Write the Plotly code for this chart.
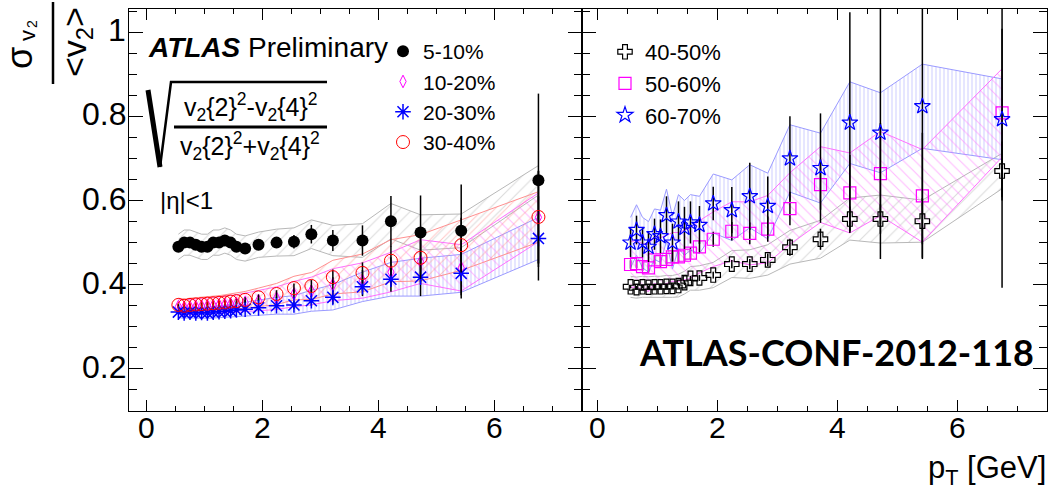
import plotly.graph_objects as go

# ---------------- data ----------------
pt = [0.55, 0.65, 0.75, 0.85, 0.95, 1.05, 1.15, 1.25, 1.35, 1.45, 1.55,
      1.70, 1.93, 2.24, 2.54, 2.84, 3.21, 3.72, 4.21, 4.72, 5.42, 6.75]

# left panel
v_5_10 = [0.490, 0.500, 0.500, 0.495, 0.490, 0.490, 0.500, 0.500, 0.505, 0.500, 0.490,
          0.486, 0.495, 0.500, 0.502, 0.520, 0.505, 0.505, 0.551, 0.524, 0.528, 0.648]
e_5_10 = [0.004, 0.004, 0.004, 0.004, 0.004, 0.005, 0.005, 0.005, 0.006, 0.006, 0.006,
          0.007, 0.009, 0.012, 0.016, 0.022, 0.025, 0.036, 0.060, 0.088, 0.110, 0.206]
s_5_10 = [0.030, 0.030, 0.030, 0.030, 0.030, 0.030, 0.030, 0.030, 0.030, 0.030, 0.030,
          0.030, 0.030, 0.032, 0.033, 0.034, 0.036, 0.040, 0.042, 0.042, 0.040, 0.035]

v_10_20 = [0.348, 0.346, 0.347, 0.348, 0.349, 0.350, 0.351, 0.352, 0.353, 0.354, 0.355,
           0.358, 0.362, 0.368, 0.378, 0.385, 0.400, 0.410, 0.430, 0.455, 0.440, 0.560]
e_10_20 = [0.003, 0.003, 0.003, 0.003, 0.003, 0.004, 0.004, 0.004, 0.004, 0.005, 0.005,
           0.006, 0.007, 0.009, 0.011, 0.014, 0.018, 0.025, 0.035, 0.050, 0.065, 0.110]
s_10_20 = [0.018, 0.018, 0.018, 0.018, 0.018, 0.018, 0.019, 0.019, 0.020, 0.020, 0.021,
           0.022, 0.024, 0.027, 0.030, 0.033, 0.038, 0.042, 0.047, 0.052, 0.055, 0.058]

v_20_30 = [0.335, 0.333, 0.335, 0.333, 0.334, 0.333, 0.335, 0.336, 0.337, 0.338, 0.340,
           0.342, 0.345, 0.350, 0.352, 0.362, 0.370, 0.395, 0.413, 0.418, 0.427, 0.510]
e_20_30 = [0.003, 0.003, 0.003, 0.003, 0.003, 0.003, 0.004, 0.004, 0.004, 0.004, 0.005,
           0.005, 0.006, 0.008, 0.010, 0.012, 0.016, 0.022, 0.030, 0.045, 0.060, 0.100]
s_20_30 = [0.013, 0.013, 0.013, 0.013, 0.013, 0.013, 0.014, 0.014, 0.014, 0.015, 0.015,
           0.016, 0.018, 0.020, 0.022, 0.025, 0.030, 0.035, 0.040, 0.045, 0.045, 0.050]

v_30_40 = [0.352, 0.350, 0.352, 0.353, 0.354, 0.355, 0.356, 0.357, 0.358, 0.360, 0.361,
           0.364, 0.370, 0.378, 0.392, 0.397, 0.418, 0.428, 0.457, 0.464, 0.494, 0.561]
e_30_40 = [0.003, 0.003, 0.003, 0.003, 0.004, 0.004, 0.004, 0.004, 0.005, 0.005, 0.005,
           0.006, 0.007, 0.009, 0.011, 0.014, 0.018, 0.025, 0.035, 0.050, 0.065, 0.110]
s_30_40 = [0.016, 0.016, 0.016, 0.016, 0.016, 0.017, 0.017, 0.017, 0.018, 0.018, 0.019,
           0.020, 0.022, 0.025, 0.028, 0.032, 0.040, 0.045, 0.050, 0.055, 0.060, 0.060]

# right panel
v_40_50 = [0.395, 0.393, 0.395, 0.394, 0.395, 0.395, 0.396, 0.396, 0.398, 0.405, 0.415,
           0.416, 0.423, 0.449, 0.449, 0.459, 0.489, 0.508, 0.556, 0.556, 0.551, 0.670]
e_40_50 = [0.004, 0.004, 0.004, 0.004, 0.005, 0.005, 0.005, 0.005, 0.006, 0.006, 0.006,
           0.007, 0.008, 0.010, 0.012, 0.015, 0.020, 0.025, 0.030, 0.035, 0.055, 0.070]
s_40_50 = [0.025, 0.025, 0.025, 0.025, 0.025, 0.025, 0.026, 0.026, 0.027, 0.027, 0.028,
           0.029, 0.030, 0.032, 0.034, 0.036, 0.040, 0.045, 0.050, 0.057, 0.050, 0.042]

v_50_60 = [0.448, 0.450, 0.443, 0.440, 0.459, 0.455, 0.460, 0.466, 0.466, 0.470, 0.475,
           0.490, 0.508, 0.527, 0.522, 0.532, 0.581, 0.638, 0.618, 0.664, 0.611, 0.808]
e_50_60 = [0.010, 0.010, 0.010, 0.011, 0.011, 0.012, 0.012, 0.013, 0.013, 0.014, 0.014,
           0.015, 0.018, 0.022, 0.026, 0.030, 0.040, 0.060, 0.090, 0.120, 0.150, 0.200]
s_50_60 = [0.055, 0.055, 0.055, 0.056, 0.056, 0.057, 0.057, 0.058, 0.058, 0.059, 0.060,
           0.062, 0.065, 0.070, 0.075, 0.080, 0.085, 0.090, 0.095, 0.100, 0.110, 0.105]

v_60_70 = [0.500, 0.530, 0.500, 0.490, 0.520, 0.515, 0.565, 0.500, 0.550, 0.535, 0.548,
           0.542, 0.593, 0.577, 0.610, 0.587, 0.700, 0.677, 0.785, 0.761, 0.824, 0.793]
e_60_70 = [0.034, 0.034, 0.035, 0.036, 0.037, 0.040, 0.045, 0.045, 0.048, 0.050, 0.050,
           0.045, 0.040, 0.055, 0.080, 0.070, 0.100, 0.130, 0.262, 0.300, 0.360, 0.400]
s_60_70 = [0.060, 0.060, 0.060, 0.060, 0.060, 0.062, 0.062, 0.063, 0.064, 0.065, 0.066,
           0.068, 0.070, 0.072, 0.075, 0.078, 0.080, 0.083, 0.097, 0.095, 0.100, 0.096]

x_ticks = [0, 2, 4, 6]
x_ticktext = ["0", "2", "4", "6"]
y_ticks = [0.2, 0.4, 0.6, 0.8, 1.0]
y_ticktext = ["0.2", "0.4", "0.6", "0.8", "1"]

# ---------------- layout helpers ----------------
FW, FH = 1052, 497
L, R, T, B = 129, 5, 9, 86
W = FW - L - R
H = FH - T - B
SPLIT = (582 - L) / W


def px(x):
    return (x - L) / W


def py(y):
    return 1 - (y - T) / H


FONT = "Liberation Sans, Arial, sans-serif"

fig = go.Figure()


def add_band(v, s, xa, ya, color, shape, size, solidity):
    lo = [a - b for a, b in zip(v, s)]
    hi = [a + b for a, b in zip(v, s)]
    fig.add_trace(go.Scatter(
        x=pt + pt[::-1], y=hi + lo[::-1], mode="lines", fill="toself",
        fillcolor="rgba(0,0,0,0)", line=dict(color=color, width=1),
        fillpattern=dict(shape=shape, fgcolor=color, bgcolor="rgba(0,0,0,0)",
                         size=size, solidity=solidity),
        xaxis=xa, yaxis=ya, showlegend=False, hoverinfo="skip"))


def add_pts(name, v, e, xa, ya, legend, symbol, size, color, lw):
    fig.add_trace(go.Scatter(
        x=pt, y=v, mode="markers", name=name,
        marker=dict(symbol=symbol, size=size, color=color,
                    line=dict(color=color, width=lw)),
        error_y=dict(type="data", array=e, visible=True, color="black",
                     thickness=1.5, width=0),
        xaxis=xa, yaxis=ya, legend=legend))


# bands (left)
add_band(v_5_10, s_5_10, "x", "y", "#b8b8b8", "/", 9, 0.12)
add_band(v_20_30, s_20_30, "x", "y", "#9a9aff", "|", 4, 0.25)
add_band(v_10_20, s_10_20, "x", "y", "#ff70ff", "\\", 8, 0.13)
add_band(v_30_40, s_30_40, "x", "y", "#ff9090", "/", 8, 0.13)
# bands (right)
add_band(v_40_50, s_40_50, "x2", "y2", "#b8b8b8", "/", 9, 0.12)
add_band(v_60_70, s_60_70, "x2", "y2", "#9a9aff", "|", 4, 0.25)
add_band(v_50_60, s_50_60, "x2", "y2", "#ff70ff", "\\", 8, 0.13)

# points (left)
add_pts("5-10%", v_5_10, e_5_10, "x", "y", "legend", "circle", 12, "black", 0)
add_pts("10-20%", v_10_20, e_10_20, "x", "y", "legend", "diamond-tall-open", 9, "#ff00ff", 1)
add_pts("20-30%", v_20_30, e_20_30, "x", "y", "legend", "asterisk-open", 13, "#0000ff", 1.5)
add_pts("30-40%", v_30_40, e_30_40, "x", "y", "legend", "circle-open", 13, "#ff0000", 1)
# points (right)
add_pts("40-50%", v_40_50, e_40_50, "x2", "y2", "legend2", "cross-open", 12, "black", 1.2)
add_pts("50-60%", v_50_60, e_50_60, "x2", "y2", "legend2", "square-open", 12, "#ff00ff", 1.2)
add_pts("60-70%", v_60_70, e_60_70, "x2", "y2", "legend2", "star-open", 12, "#0000ff", 1.2)

axis_common = dict(showline=True, linecolor="black", linewidth=1, mirror="ticks",
                   ticks="inside", tickcolor="black", tickwidth=1, showgrid=False,
                   zeroline=False, automargin=False, showticklabels=False)
xminor = dict(dtick=0.5, tick0=0, ticklen=5, ticks="inside", tickcolor="black", showgrid=False)
yminor = dict(dtick=0.05, tick0=0, ticklen=8, ticks="inside", tickcolor="black", showgrid=False)

fig.update_layout(
    width=FW, height=FH,
    margin=dict(l=L, r=R, t=T, b=B, pad=0, autoexpand=False),
    paper_bgcolor="white", plot_bgcolor="white",
    font=dict(family=FONT, color="black"),
    xaxis=dict(domain=[0, SPLIT], range=[-0.3, 7.5], tickvals=x_ticks, ticklen=11,
               minor=xminor, anchor="y", **axis_common),
    xaxis2=dict(domain=[SPLIT, 1], range=[-0.26, 7.5], tickvals=x_ticks, ticklen=11,
                minor=xminor, anchor="y2", **axis_common),
    yaxis=dict(domain=[0, 1], range=[0.1, 1.055], tickvals=y_ticks,
               ticklen=14, minor=yminor, anchor="x", **axis_common),
    yaxis2=dict(domain=[0, 1], range=[0.1, 1.055], tickvals=y_ticks,
                ticklen=14, minor=yminor, anchor="x2", **axis_common),
    legend=dict(x=px(383), y=py(31), xref="paper", yref="paper",
                xanchor="left", yanchor="top", bgcolor="rgba(0,0,0,0)",
                font=dict(family=FONT, size=21, color="black"), tracegroupgap=0),
    legend2=dict(x=px(605), y=py(31), xref="paper", yref="paper",
                 xanchor="left", yanchor="top", bgcolor="rgba(0,0,0,0)",
                 font=dict(family=FONT, size=22, color="black"), tracegroupgap=0),
)

ann = []


def text(x, y, s, size, xanchor="center", angle=0, family=FONT):
    ann.append(dict(x=px(x), y=py(y), xref="paper", yref="paper", text=s, showarrow=False,
                    xanchor=xanchor, yanchor="middle", textangle=angle,
                    font=dict(family=family, size=size, color="black")))


# tick labels placed through the axis scales
for xa in ("x", "x2"):
    for v, t in zip(x_ticks, x_ticktext):
        ann.append(dict(x=v, y=py(427), xref=xa, yref="paper", text=t, showarrow=False,
                        xanchor="center", yanchor="middle",
                        font=dict(family=FONT, size=30, color="black")))
for v, t in zip(y_ticks, y_ticktext):
    ann.append(dict(x=px(128), y=v, xref="paper", yref="y", text=t, showarrow=False,
                    xanchor="right", yanchor="middle", yshift=2,
                    font=dict(family=FONT, size=32, color="black")))

text(146, 47, "<b><i>ATLAS</i></b> Preliminary", 28, xanchor="left")
text(250, 107, "v<sub>2</sub>{2}<sup>2</sup>-v<sub>2</sub>{4}<sup>2</sup>", 25)
text(250, 146, "v<sub>2</sub>{2}<sup>2</sup>+v<sub>2</sub>{4}<sup>2</sup>", 25)
text(158, 200, "|η|<1", 24, xanchor="left")
text(637, 352, "<b>ATLAS-CONF-2012-118</b>", 36, xanchor="left", family="Lato, sans-serif")
text(1048, 470, "p<sub>T</sub> [GeV]", 31, xanchor="right")
# y-axis title pieces (rotated)
text(20, 58, "σ", 36, angle=-90)
text(28, 36, "v", 22, angle=-90)
text(32, 24, "2", 14, angle=-90)
text(76, 42, "&lt;v<sub>2</sub>&gt;", 34, angle=-90)
fig.update_layout(annotations=ann)

shapes = [
    # sqrt sign
    dict(type="line", xref="paper", yref="paper", x0=px(148), y0=py(90), x1=px(160), y1=py(167),
         line=dict(color="black", width=5)),
    dict(type="path", xref="paper", yref="paper",
         path=f"M {px(160)},{py(167)} L {px(171)},{py(82)} L {px(327)},{py(82)}",
         line=dict(color="black", width=2.5)),
    # fraction bar
    dict(type="line", xref="paper", yref="paper", x0=px(174), y0=py(127), x1=px(327), y1=py(127),
         line=dict(color="black", width=3)),
    # y title fraction bar
    dict(type="line", xref="paper", yref="paper", x0=px(53), y0=py(2), x1=px(53), y1=py(84),
         line=dict(color="black", width=2.5)),
]
fig.update_layout(shapes=shapes)

fig.write_html("out.html")
